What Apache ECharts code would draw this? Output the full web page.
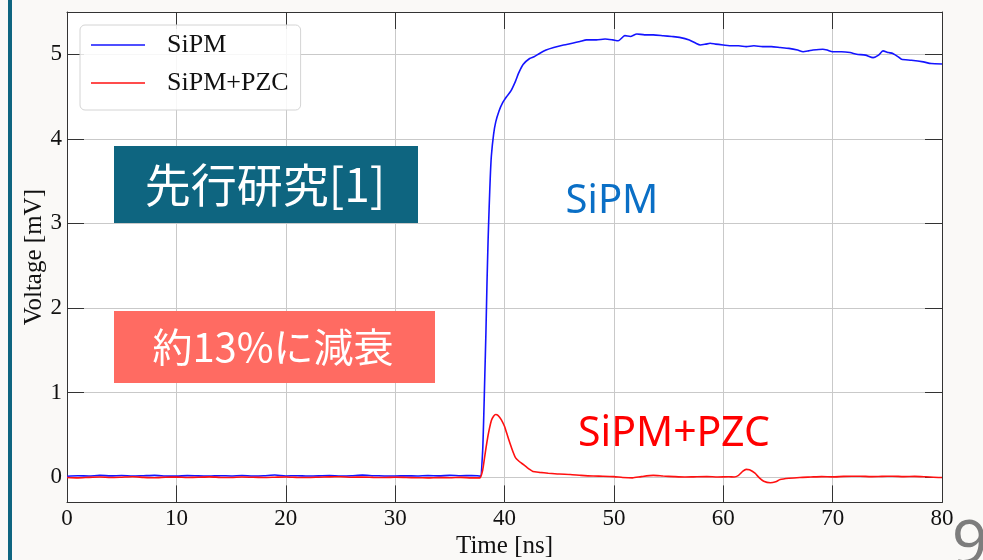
<!DOCTYPE html>
<html>
<head>
<meta charset="utf-8">
<script src="https://cdn.jsdelivr.net/npm/echarts@6/dist/echarts.min.js"></script>
<style>
  html, body { margin: 0; padding: 0; background: #faf9f7; }
  #chart { width: 983px; height: 560px; }
</style>
</head>
<body>
<div id="chart"></div>
<script>
// Time axis ticks
const xTicks = [0, 10, 20, 30, 40, 50, 60, 70, 80];

// SiPM output (blue): time [ns] and voltage [mV]
const sipmTime = [
  0, 1, 2, 3, 4, 5, 6, 7, 8, 9, 10, 11, 12, 13, 14, 15, 16, 17, 18, 19,
  20, 21, 22, 23, 24, 25, 26, 27, 28, 29, 30, 31, 32, 33, 34, 35, 36, 37,
  37.5, 37.8, 38.0, 38.1, 38.2, 38.3, 38.4, 38.5, 38.6, 38.7, 38.8, 39.0,
  39.2, 39.5, 39.8, 40.2, 40.6, 41.0, 41.3, 41.7, 42.3, 42.7, 43.2, 43.8,
  44.5, 45.4, 46.2, 46.9, 47.5, 48.4, 49.2, 49.9, 50.4, 51.0, 51.5, 52.1,
  52.8, 53.6, 54.5, 55.3, 56.0, 56.9, 57.5, 57.9, 58.4, 58.8, 59.3, 60.0,
  60.8, 61.4, 62.1, 62.8, 63.6, 64.4, 65.2, 66.0, 66.8, 67.3, 67.8, 68.2,
  69.1, 69.5, 70.0, 70.8, 71.6, 72.2, 73.0, 73.7, 74.2, 74.6, 75.1, 75.5,
  76.0, 76.3, 77.2, 78.3, 79.0, 80.0
];
const sipmVolt = [
  0.010, 0.015, 0.012, 0.020, 0.014, 0.018, 0.012, 0.016, 0.020, 0.013,
  0.011, 0.017, 0.014, 0.012, 0.016, 0.013, 0.018, 0.012, 0.015, 0.024,
  0.013, 0.016, 0.012, 0.014, 0.017, 0.013, 0.015, 0.022, 0.016, 0.013,
  0.012, 0.015, 0.013, 0.017, 0.014, 0.020, 0.016, 0.018,
  0.015, 0.010, 0.30, 0.70, 1.20, 1.70, 2.30, 2.80, 3.20, 3.55, 3.80, 4.05,
  4.20, 4.33, 4.42, 4.50, 4.57, 4.68, 4.78, 4.88, 4.95, 4.97, 5.01, 5.05,
  5.08, 5.11, 5.13, 5.15, 5.17, 5.17, 5.18, 5.17, 5.16, 5.22, 5.21, 5.24,
  5.23, 5.23, 5.22, 5.21, 5.20, 5.17, 5.13, 5.11, 5.12, 5.13, 5.12, 5.11,
  5.10, 5.10, 5.09, 5.10, 5.09, 5.09, 5.08, 5.07, 5.05, 5.03, 5.04, 5.05,
  5.06, 5.05, 5.03, 5.03, 5.02, 5.00, 4.99, 4.96, 4.99, 5.04, 5.02, 5.01,
  4.97, 4.94, 4.93, 4.91, 4.89, 4.885
];

// SiPM with pole-zero cancellation (red): time [ns] and voltage [mV]
const pzcTime = [
  0, 1, 2, 3, 4, 5, 6, 7, 8, 9, 10, 11, 12, 13, 14, 15, 16, 17, 18, 19,
  20, 21, 22, 23, 24, 25, 26, 27, 28, 29, 30, 31, 32, 33, 34, 35, 36, 37,
  37.75, 38.0, 38.2, 38.4, 38.6, 38.8, 39.0, 39.2, 39.4, 39.7, 40.0, 40.2,
  40.5, 40.8, 41.0, 41.3, 41.6, 42.0, 42.3, 42.6, 43.2, 44.0, 45.0, 46.0,
  47.0, 48.1, 49.0, 50.0, 50.8, 51.7, 52.5, 53.6, 54.5, 55.5, 56.5, 57.3,
  58.5, 59.5, 60.5, 61.0, 61.4, 61.8, 62.1, 62.4, 62.9, 63.3, 63.7, 64.3,
  64.8, 65.2, 66.0, 67.0, 68.0, 69.0, 70.0, 71.0, 72.5, 73.5, 74.5, 75.5,
  76.5, 77.5, 78.5, 79.8, 80.0
];
const pzcVolt = [
  -0.005, -0.010, -0.004, 0.000, -0.006, -0.002, 0.003, -0.004, -0.008, -0.002,
  0.000, -0.005, -0.003, 0.002, -0.004, -0.006, 0.000, -0.003, -0.005, -0.002,
  0.001, -0.004, -0.006, -0.002, 0.002, 0.004, -0.002, 0.000, -0.004, -0.006,
  -0.002, -0.005, -0.008, -0.010, -0.006, -0.008, -0.004, -0.010,
  -0.010, 0.08, 0.25, 0.42, 0.56, 0.67, 0.72, 0.74, 0.73, 0.68, 0.60, 0.52,
  0.40, 0.29, 0.23, 0.19, 0.16, 0.12, 0.09, 0.065, 0.055, 0.045, 0.035, 0.030,
  0.020, 0.012, 0.010, 0.005, -0.005, -0.010, 0.005, 0.020, 0.012, 0.005, 0.000, 0.002,
  0.005, 0.000, 0.003, 0.000, 0.020, 0.070, 0.090, 0.085, 0.045, -0.010, -0.050, -0.067,
  -0.055, -0.030, -0.015, -0.005, 0.000, 0.005, 0.002, 0.008, 0.010, 0.005, 0.008, 0.010,
  0.005, 0.008, 0.003, -0.005, -0.005
];

const seriesNames = ['SiPM', 'SiPM+PZC'];
const labelTitle = '先行研究[1]';
const labelRatio = '約13%に減衰';
const pageNumber = '9';

const zip = (t, v) => t.map((x, i) => [x, v[i]]);

const serif = '"Liberation Serif", "DejaVu Serif", serif';
const sans = '"Noto Sans", "Open Sans", sans-serif';
const cjk = '"Noto Sans CJK JP", "Noto Sans", sans-serif';

const teal = '#0e6580';
const salmon = '#ff6b62';

const chart = echarts.init(document.getElementById('chart'), null, { renderer: 'canvas' });

// mirrored axes closing the frame on the top and right sides
const boxAxis = {
  axisLine: { show: true, onZero: false, lineStyle: { color: '#333', width: 1 } },
  axisTick: { show: true, inside: true, length: 17, lineStyle: { color: '#333', width: 1 } },
  axisLabel: { show: false },
  splitLine: { show: false }
};

chart.setOption({
  backgroundColor: '#faf9f7',
  animation: false,
  grid: {
    left: 67, right: 41, top: 12, bottom: 57.6,
    containLabel: false, outerBoundsMode: 'none',
    show: true, backgroundColor: '#ffffff', borderWidth: 0
  },
  legend: {
    orient: 'vertical',
    left: 80, top: 25,
    padding: [5, 12, 12, 11],
    itemGap: 8,
    icon: 'rect',
    itemWidth: 54, itemHeight: 1.6,
    backgroundColor: 'rgba(255,255,255,0.85)',
    borderColor: '#d4d4d4', borderWidth: 1, borderRadius: 5,
    textStyle: {
      fontFamily: serif, fontSize: 26, color: '#111',
      lineHeight: 30, padding: [0, 0, 0, 17]
    },
    data: seriesNames
  },
  xAxis: [
    {
      type: 'value', position: 'bottom',
      min: xTicks[0], max: xTicks[xTicks.length - 1], interval: 10,
      name: 'Time [ns]', nameLocation: 'middle', nameGap: 32, nameMoveOverlap: false,
      nameTextStyle: { fontFamily: serif, fontSize: 25, color: '#111' },
      axisLine: { show: true, onZero: false, lineStyle: { color: '#333', width: 1 } },
      axisTick: { show: true, inside: true, length: 17, lineStyle: { color: '#333' } },
      axisLabel: { fontFamily: serif, fontSize: 23, color: '#111', margin: 5 },
      splitLine: { show: true, lineStyle: { color: '#c9c9c9', width: 1 } }
    },
    Object.assign({
      type: 'value', position: 'top',
      min: xTicks[0], max: xTicks[xTicks.length - 1], interval: 10
    }, boxAxis)
  ],
  yAxis: [
    {
      type: 'value', position: 'left',
      min: -0.3, max: 5.5, splitNumber: 6,
      name: 'Voltage [mV]', nameLocation: 'middle', nameGap: 20, nameMoveOverlap: false,
      nameTextStyle: { fontFamily: serif, fontSize: 25, color: '#111' },
      axisLine: { show: true, onZero: false, lineStyle: { color: '#333', width: 1 } },
      axisTick: { show: true, inside: true, length: 17, lineStyle: { color: '#333' } },
      axisLabel: {
        fontFamily: serif, fontSize: 23, color: '#111', margin: 5,
        showMinLabel: false, showMaxLabel: false,
        formatter: v => (Math.abs(v - Math.round(v)) < 1e-9 ? String(Math.round(v)) : '')
      },
      splitLine: { show: true, lineStyle: { color: '#c9c9c9', width: 1 } }
    },
    Object.assign({
      type: 'value', position: 'right',
      min: -0.3, max: 5.5, splitNumber: 6
    }, boxAxis)
  ],
  series: [
    {
      name: seriesNames[0], type: 'line',
      xAxisIndex: 0, yAxisIndex: 0,
      data: zip(sipmTime, sipmVolt),
      symbol: 'none', showSymbol: false, smooth: 0.2,
      lineStyle: { color: '#1414ff', width: 1.6 },
      itemStyle: { color: '#1414ff' },
      z: 3
    },
    {
      name: seriesNames[1], type: 'line',
      xAxisIndex: 0, yAxisIndex: 0,
      data: zip(pzcTime, pzcVolt),
      symbol: 'none', showSymbol: false, smooth: 0.2,
      lineStyle: { color: '#ff1010', width: 1.6 },
      itemStyle: { color: '#ff1010' },
      z: 4
    }
  ],
  graphic: [
    // vertical accent bar along the left edge of the slide
    { type: 'rect', shape: { x: 8, y: 0, width: 4, height: 560 }, style: { fill: teal }, z: 10 },
    // title tag
    { type: 'rect', shape: { x: 114, y: 146, width: 304, height: 77 }, style: { fill: teal }, z: 10 },
    {
      type: 'text', x: 265, y: 185, z: 11,
      style: { text: labelTitle, fill: '#ffffff', font: '46px ' + cjk, textAlign: 'center', textVerticalAlign: 'middle' }
    },
    // attenuation tag
    { type: 'rect', shape: { x: 114, y: 311, width: 321, height: 72 }, style: { fill: salmon }, z: 10 },
    {
      type: 'text', x: 273, y: 347, z: 11,
      style: { text: labelRatio, fill: '#ffffff', font: '40px ' + cjk, textAlign: 'center', textVerticalAlign: 'middle' }
    },
    // curve captions
    {
      type: 'text', x: 612, y: 202, z: 11,
      style: { text: seriesNames[0], fill: '#0a6fc6', font: '40px ' + sans, textAlign: 'center', textVerticalAlign: 'middle' }
    },
    {
      type: 'text', x: 674, y: 434, z: 11,
      style: { text: seriesNames[1], fill: '#ff0000', font: '41px ' + sans, textAlign: 'center', textVerticalAlign: 'middle' }
    },
    // slide page number
    {
      type: 'text', x: 952, y: 546, z: 11,
      style: { text: pageNumber, fill: '#7d7d7d', font: '62px ' + sans, textAlign: 'left', textVerticalAlign: 'middle' }
    }
  ]
});
</script>
</body>
</html>
